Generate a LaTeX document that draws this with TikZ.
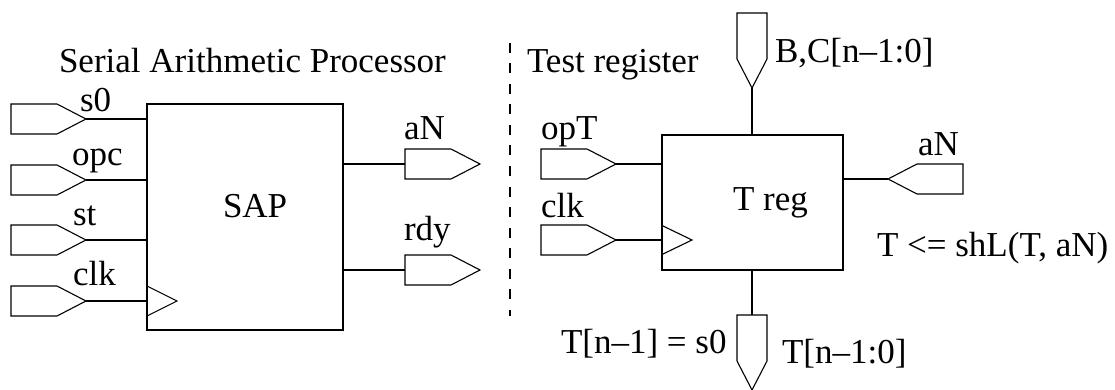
\documentclass[tikz,border=0pt]{standalone}
\usepackage{fontspec}
\setmainfont{Liberation Serif}
\usetikzlibrary{calc}

% A port flag: pointed tip at #2, body of 46 + point of 29, 30 high,
% rotated by #3 degrees (0 = pointing right). Named #1 at its tip,
% #1-tail at the middle of its flat end.
\newcommand\portflag[3]{%
  \coordinate (#1) at #2;
  \path[shift={#2},rotate=#3] (-75,0) coordinate (#1-tail);
  \draw[port,shift={#2},rotate=#3] (0,0) -- (-29,15) -- (-75,15) -- (-75,-15) -- (-29,-15) -- cycle;}

\begin{document}
\begin{tikzpicture}[x=1pt,y=-1pt,
  every node/.style={font=\fontsize{35}{42}\selectfont,inner sep=0pt,outer sep=0pt},
  port/.style={draw=black,line width=1.1pt,line join=miter},
  block/.style={draw=black,line width=1.2pt,rectangle,inner sep=0pt,outer sep=0pt},
  wire/.style={line width=1.1pt},
  bus/.style={line width=2.6pt},
  lbl/.style={anchor=base west},
  sep/.style={line width=1.6pt,dash pattern=on 10pt off 10.5pt}]
\useasboundingbox (0,0) rectangle (1115,390);

% ---------------- Serial Arithmetic Processor ----------------
\node[lbl] (title1) at (59,73) {Serial Arithmetic Processor};
\node[block,minimum width=196pt,minimum height=226pt] (sap) at (245,217) {};
\node[lbl] (saptxt) at (223,217) {SAP};

\portflag{s0}{(86,119)}{0}
\portflag{opc}{(86,180)}{0}
\portflag{st}{(86,240)}{0}
\portflag{clkA}{(86,301)}{0}
\node[lbl] (ls0) at (80,112) {s0};
\node[lbl] (lopc) at (72,165) {opc};
\node[lbl] (lst) at (73,225) {st};
\node[lbl] (lclkA) at (73,285) {clk};

\draw[wire] (s0) -- (s0 -| sap.west);
\draw[wire] (opc) -- (opc -| sap.west);
\draw[wire] (st) -- (st -| sap.west);
\draw[wire] (clkA) -- (clkA -| sap.west);
% clock input triangle
\draw[wire] ($(clkA -| sap.west)+(0,-15)$) -- ++(30,15) -- ++(-30,15);

\portflag{aNo}{(480,164)}{0}
\portflag{rdy}{(480,270)}{0}
\node[lbl] (laNo) at (404,140) {aN};
\node[lbl] (lrdy) at (404,240) {rdy};
\draw[wire] (sap.east |- aNo-tail) -- (aNo-tail);
\draw[wire] (sap.east |- rdy-tail) -- (rdy-tail);

% ---------------- separator ----------------
\coordinate (sepA) at (510,43);
\coordinate (sepB) at (510,316);
\draw[sep] (sepA) -- (sepB);

% ---------------- Test register ----------------
\node[lbl] (title2) at (527,73) {Test register};
\node[block,minimum width=181pt,minimum height=135pt] (treg) at (752.5,202.5) {};
\node[lbl] (tregtxt) at (733,210) {T reg};

\portflag{opT}{(616,164)}{0}
\portflag{clkB}{(616,240)}{0}
\node[lbl] (lopT) at (541,140) {opT};
\node[lbl] (lclkB) at (541,217) {clk};
\draw[wire] (opT) -- (opT -| treg.west);
\draw[wire] (clkB) -- (clkB -| treg.west);
\draw[wire] ($(clkB -| treg.west)+(0,-14.5)$) -- ++(30,14.5) -- ++(-30,14.5);

% data bus in (top) and out (bottom)
\portflag{bc}{(752,88)}{-90}
\portflag{tout}{(752,390)}{-90}
\draw[bus] (bc) -- (bc |- treg.north);
\draw[bus] (treg.south -| tout-tail) -- (tout-tail);
\node[lbl] (lbc) at (775,63) {B,C[n--1:0]};
\node[lbl] (lts0) at (561,353) {T[n--1] = s0};
\node[lbl] (ltout) at (782,363) {T[n--1:0]};

% serial input aN
\portflag{aNi}{(888,179)}{180}
\node[lbl] (laNi) at (918,156) {aN};
\draw[wire] (treg.east |- aNi) -- (aNi);

\node[lbl] (shl) at (877,256) {T <= shL(T, aN)};
\end{tikzpicture}
\end{document}
